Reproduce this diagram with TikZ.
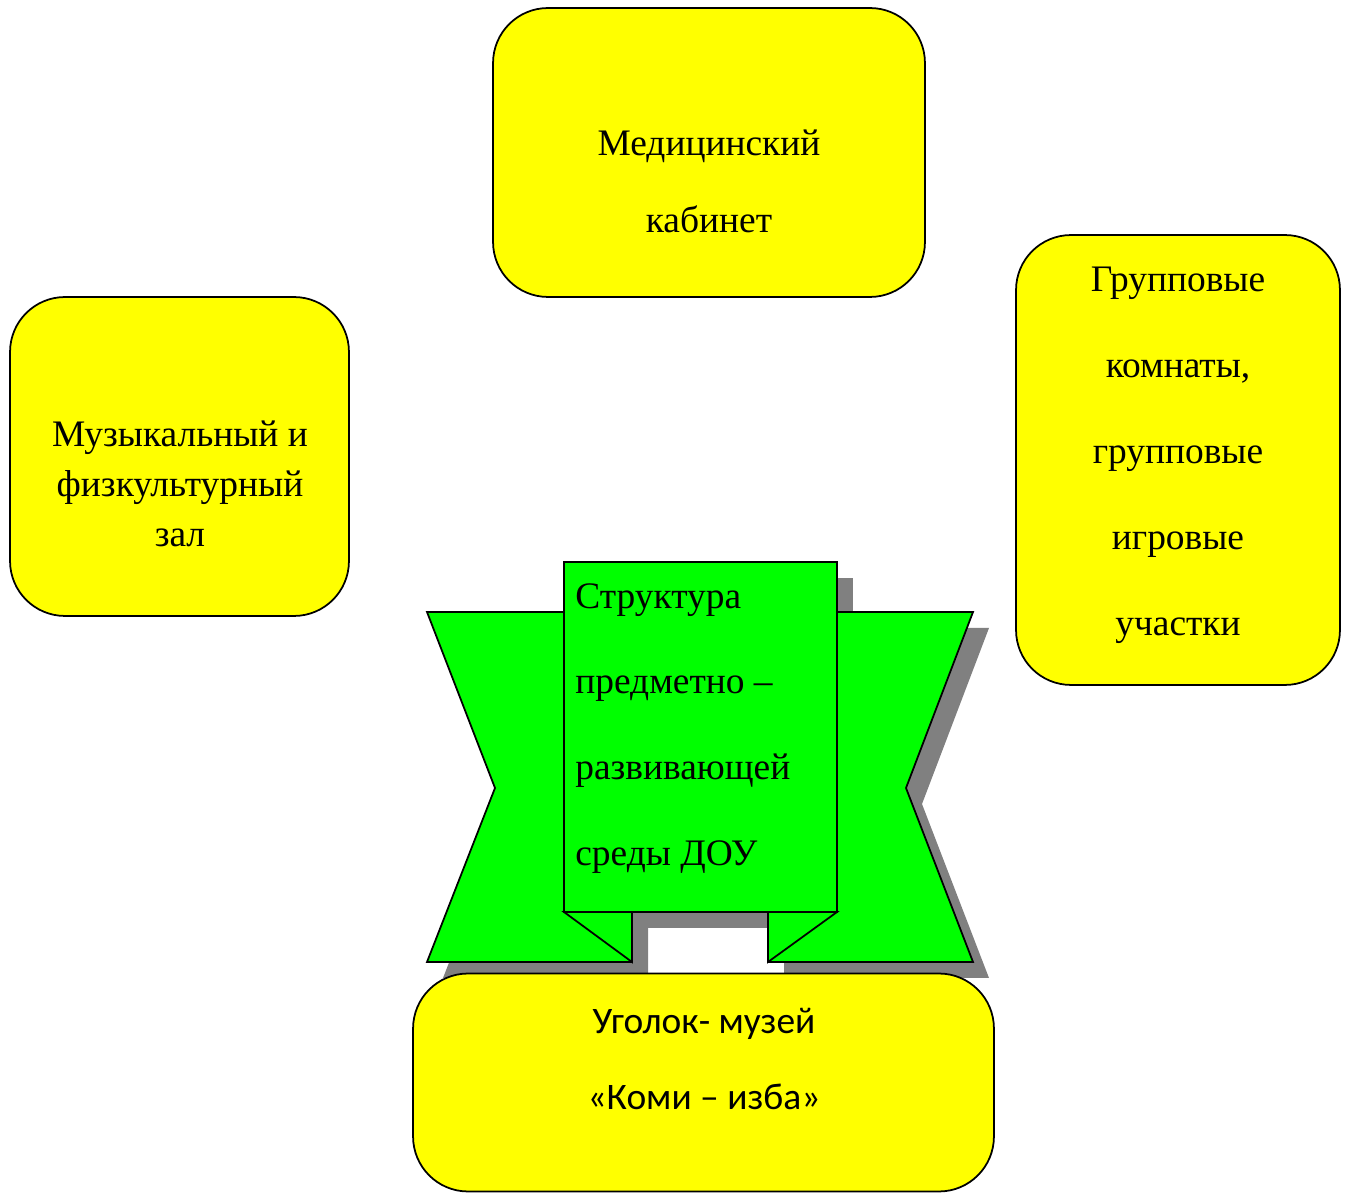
\documentclass[tikz,border=0pt]{standalone}
\usepackage{fontspec}
\setmainfont{Liberation Serif}
\setsansfont{Carlito}
\usetikzlibrary{positioning}
\definecolor{roomyellow}{RGB}{255,255,0}
\definecolor{ribbongreen}{RGB}{0,255,0}
\definecolor{shadowgray}{RGB}{128,128,128}

\begin{document}
\begin{tikzpicture}[x=0.02cm,y=-0.02cm,
  room/.style={draw=black, line width=1pt, fill=roomyellow, rounded corners=1.1cm, inner sep=0pt},
  roomtext/.style={align=center, inner sep=0pt, font=\fontsize{21.3pt}{#1}\selectfont},
  ribbon/.style={draw=black, line width=1pt, fill=ribbongreen},
  ribbonshadow/.style={fill=shadowgray}]

\useasboundingbox (0,0) rectangle (1350,1195);

% ribbon shadow
\begin{scope}[shift={(16,16)}]
\fill[ribbonshadow] (427,612)--(632,612)--(632,962)--(427,962)--(495,788)--cycle;
\fill[ribbonshadow] (768,612)--(973,612)--(906,788)--(973,962)--(768,962)--cycle;
\fill[ribbonshadow] (564,562) rectangle (837,912);
\end{scope}

% ribbon
\draw[ribbon] (427,612)--(632,612)--(632,962)--(427,962)--(495,788)--cycle;
\draw[ribbon] (768,612)--(973,612)--(906,788)--(973,962)--(768,962)--cycle;
\draw[ribbon] (564,912)--(632,912)--(632,962)--cycle;
\draw[ribbon] (768,912)--(837,912)--(768,962)--cycle;
\draw[ribbon] (564,562) rectangle (837,912);
\node[roomtext=48.9pt, align=left, anchor=west] (ribtext) at (575,728.5) {Структура\\предметно –\\развивающей\\среды ДОУ};

\node[room, minimum width=8.64cm, minimum height=5.78cm] (med) at (709,152.5) {};
\node[roomtext=43.7pt] (medtext) at (709,181) {Медицинский\\кабинет};

\node[room, minimum width=6.78cm, minimum height=6.38cm] (hall) at (179.5,456.5) {};
\node[roomtext=28.5pt] (halltext) at (180,484) {Музыкальный и\\физкультурный\\зал};

\node[room, minimum width=6.48cm, minimum height=9cm] (group) at (1178,460) {};
\node[roomtext=48.9pt] (grouptext) at (1178,455.5) {Групповые\\комнаты,\\групповые\\игровые\\участки};

\node[room, minimum width=11.62cm, minimum height=4.36cm] (museum) at (703.5,1082.5) {};
\node[roomtext=43.1pt, font=\sffamily\fontsize{21.3pt}{43.1pt}\selectfont] (museumtext) at (704,1059) {Уголок- музей\\«Коми – изба»};

\end{tikzpicture}
\end{document}
